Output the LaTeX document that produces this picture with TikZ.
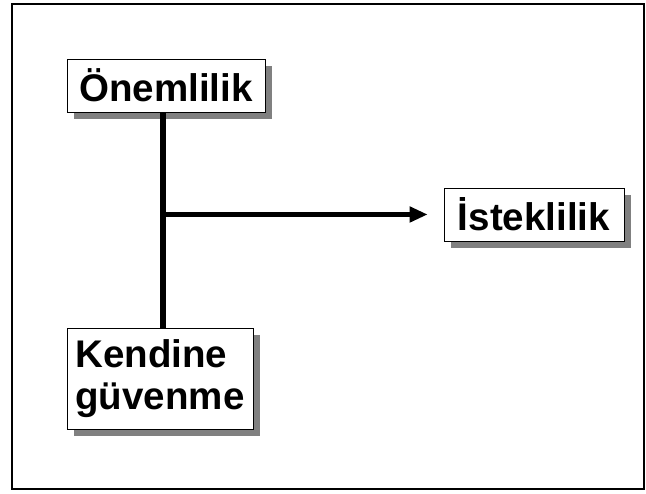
\documentclass[tikz,border=0pt]{standalone}
\usepackage{fontspec}
\setmainfont{Liberation Sans}
\usetikzlibrary{arrows.meta,shadows}

\definecolor{shadowgray}{RGB}{128,128,128}

\tikzset{
  factorbox/.style={draw=black, line width=0.7pt, fill=white, inner sep=0pt,
    font=\bfseries\fontsize{29}{32}\selectfont,
    drop shadow={shadow xshift=0.185cm, shadow yshift=-0.185cm, fill=shadowgray, opacity=1}},
  link/.style={line width=4pt}
}

\begin{document}
\begin{tikzpicture}
\useasboundingbox (0,0) rectangle (17.092,13.070);
\draw[line width=1.1pt] (0.318,0.132) rectangle (17.039,12.965);
\node[factorbox, minimum width=5.239cm, minimum height=1.402cm] (onem) at (4.392,10.808) {Önemlilik};
\node[factorbox, minimum width=4.762cm, minimum height=1.402cm] (istek) at (14.129,7.395) {İsteklilik};
\node[factorbox, minimum width=4.921cm, minimum height=2.672cm, align=left] (kendi) at (4.233,3.056) {Kendine\\güvenme};
\coordinate (trunk) at (4.313,7.395);
\draw[link] (trunk |- onem.south) -- (trunk |- kendi.north);
\draw[link, -{Triangle[length=0.48cm, width=0.40cm]}, shorten >=0.42cm] (trunk) -- (istek.west);
\end{tikzpicture}
\end{document}
